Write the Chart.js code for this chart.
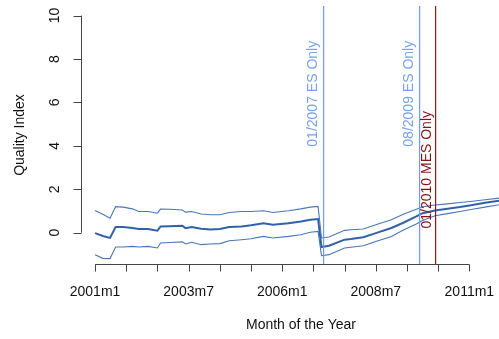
<!DOCTYPE html>
<html>
<head>
<meta charset="utf-8">
<title>Quality Index</title>
<script src="https://cdn.jsdelivr.net/npm/chart.js@4/dist/chart.umd.min.js"></script>
<style>
    body { margin: 0; background: #fff; }
    .chart-box { width: 499px; height: 339px; }
</style>
</head>
<body>
<div class="chart-box"><canvas id="qualityChart"></canvas></div>
<script>
// months since 2001m1
const months = [0, 2.5, 4.8, 6.6, 9, 12, 14, 17, 20, 21, 24, 28, 29, 31, 34, 37, 40, 43, 47, 50, 54, 57, 62, 66, 69, 71.5, 72.6, 75, 80, 82, 86, 90, 95, 99, 103, 105, 109, 113, 117, 121, 125, 130];
const upperBand = [1.02, 0.85, 0.67, 1.2, 1.18, 1.1, 0.98, 0.98, 0.9, 1.09, 1.08, 1.05, 0.95, 0.98, 0.86, 0.83, 0.83, 0.93, 0.98, 0.98, 1.01, 0.93, 1.01, 1.1, 1.18, 1.21, -0.24, -0.2, 0.11, 0.14, 0.17, 0.37, 0.6, 0.86, 1.08, 1.2, 1.28, 1.33, 1.39, 1.45, 1.52, 1.6];
const qualityIndex = [-0.02, -0.15, -0.24, 0.26, 0.26, 0.22, 0.17, 0.17, 0.09, 0.29, 0.3, 0.32, 0.21, 0.26, 0.18, 0.15, 0.17, 0.26, 0.29, 0.34, 0.44, 0.37, 0.44, 0.52, 0.6, 0.63, -0.66, -0.6, -0.32, -0.29, -0.21, -0.02, 0.22, 0.47, 0.75, 0.9, 1.02, 1.1, 1.18, 1.28, 1.38, 1.48];
const lowerBand = [-1.01, -1.18, -1.19, -0.66, -0.66, -0.63, -0.66, -0.63, -0.7, -0.47, -0.45, -0.42, -0.52, -0.44, -0.55, -0.52, -0.5, -0.37, -0.32, -0.28, -0.17, -0.24, -0.17, -0.09, 0.02, 0.06, -1.06, -1.01, -0.7, -0.67, -0.6, -0.4, -0.17, 0.14, 0.4, 0.56, 0.78, 0.88, 0.98, 1.08, 1.18, 1.3];

const xTickMonths = [0, 10, 20, 30, 40, 50, 60, 70, 80, 90, 100, 110, 120];
const xLabelMonths = [0, 30, 60, 90, 120];
const xLabels = ['2001m1', '2003m7', '2006m1', '2008m7', '2011m1'];
const yTicks = [0, 2, 4, 6, 8, 10];

const eventMonths = [73, 104, 109];
const eventLabels = ['01/2007 ES Only', '08/2009 ES Only', '01/2010 MES Only'];

const FONT = '14px "Liberation Sans", Arial, sans-serif';

function toPoints(values) {
    return months.map((m, i) => ({ x: m, y: values[i] }));
}

// R style axes, event lines and their labels
const rAxes = {
    id: 'rAxes',
    afterDatasetsDraw(chart) {
        const ctx = chart.ctx;
        const xs = chart.scales.x;
        const ys = chart.scales.y;
        const area = chart.chartArea;

        ctx.save();
        ctx.strokeStyle = '#444';
        ctx.fillStyle = '#111';
        ctx.lineWidth = 1;
        ctx.font = FONT;

        // x axis
        const axisY = area.bottom + 0.5;
        ctx.beginPath();
        ctx.moveTo(xs.getPixelForValue(xTickMonths[0]), axisY);
        ctx.lineTo(xs.getPixelForValue(xTickMonths[xTickMonths.length - 1]), axisY);
        xTickMonths.forEach(m => {
            const px = Math.round(xs.getPixelForValue(m)) + 0.5;
            ctx.moveTo(px, axisY);
            ctx.lineTo(px, axisY + 7);
        });
        ctx.stroke();
        ctx.textAlign = 'center';
        ctx.textBaseline = 'middle';
        xLabelMonths.forEach((m, i) => {
            ctx.fillText(xLabels[i], xs.getPixelForValue(m), 292);
        });
        ctx.fillText('Month of the Year', 301, 325);

        // y axis
        const axisX = area.left + 0.5;
        ctx.beginPath();
        ctx.moveTo(axisX, ys.getPixelForValue(yTicks[0]));
        ctx.lineTo(axisX, ys.getPixelForValue(yTicks[yTicks.length - 1]));
        yTicks.forEach(v => {
            const py = Math.round(ys.getPixelForValue(v)) + 0.5;
            ctx.moveTo(axisX, py);
            ctx.lineTo(axisX - 8, py);
        });
        ctx.stroke();
        yTicks.forEach(v => {
            ctx.save();
            ctx.translate(55, ys.getPixelForValue(v));
            ctx.rotate(-Math.PI / 2);
            ctx.fillText(String(v), 0, 0);
            ctx.restore();
        });
        ctx.save();
        ctx.translate(20, (area.top + area.bottom) / 2);
        ctx.rotate(-Math.PI / 2);
        ctx.fillText('Quality Index', 0, 0);
        ctx.restore();

        // event lines
        const lineColors = ['#6a9cf6', '#6a9cf6', '#8b1a1a'];
        const textColors = ['#74a2f2', '#74a2f2', '#8b1010'];
        const textOffsets = [-10, -10, -8];
        const textY = [6.4, 6.4, 2.9];
        eventMonths.forEach((m, i) => {
            const px = Math.round(xs.getPixelForValue(m));
            ctx.fillStyle = lineColors[i];
            ctx.fillRect(px, area.top, 1.2, area.bottom - area.top);

            ctx.save();
            ctx.fillStyle = textColors[i];
            ctx.translate(px + textOffsets[i], ys.getPixelForValue(textY[i]));
            ctx.rotate(-Math.PI / 2);
            ctx.fillText(eventLabels[i], 0, 0);
            ctx.restore();
        });

        ctx.restore();
    }
};

const qualityChart = new Chart(document.getElementById('qualityChart'), {
    type: 'line',
    data: {
        datasets: [
            {
                label: 'Upper',
                data: toPoints(upperBand),
                borderColor: '#4677be',
                borderWidth: 1.1
            },
            {
                label: 'Quality Index',
                data: toPoints(qualityIndex),
                borderColor: '#3062aa',
                borderWidth: 2
            },
            {
                label: 'Lower',
                data: toPoints(lowerBand),
                borderColor: '#4677be',
                borderWidth: 1.1
            }
        ]
    },
    options: {
        responsive: true,
        maintainAspectRatio: false,
        animation: false,
        layout: {
            padding: { left: 81, top: 6, right: 0, bottom: 75 }
        },
        elements: {
            point: { radius: 0 },
            line: { tension: 0 }
        },
        scales: {
            x: { type: 'linear', min: -4.5, max: 129.5, display: false },
            y: { min: -1.44, max: 10.44, display: false }
        },
        plugins: {
            legend: { display: false },
            tooltip: { enabled: false }
        }
    },
    plugins: [rAxes]
});
</script>
</body>
</html>
